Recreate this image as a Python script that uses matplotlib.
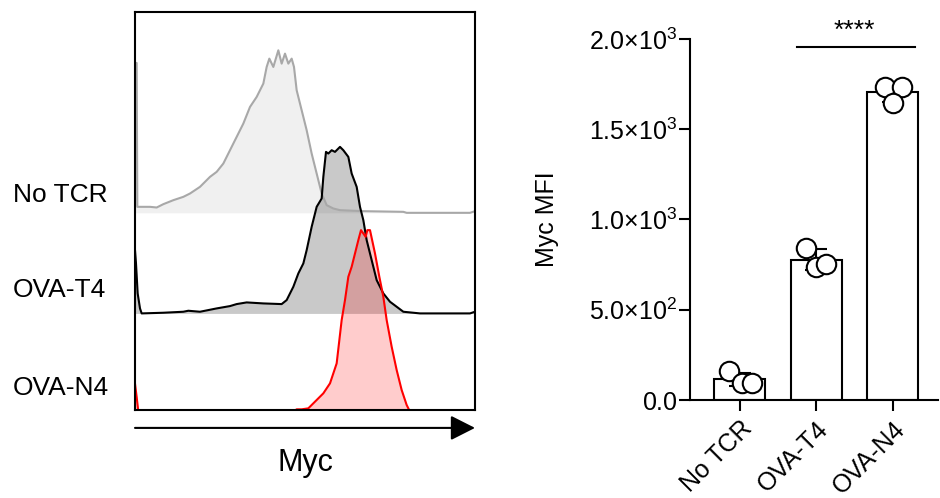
import numpy as np
import matplotlib
matplotlib.use("Agg")
import matplotlib.pyplot as plt

plt.rcParams["font.family"] = ["Liberation Sans", "DejaVu Sans"]
plt.rcParams["mathtext.fontset"] = "custom"
plt.rcParams["mathtext.rm"] = "Liberation Sans"
plt.rcParams["mathtext.it"] = "Liberation Sans"

# ---- histogram traces (x: channel 0-1020, h: counts above own baseline) ----
notcr_x = [0, 5, 7, 45, 65, 85, 115, 145, 165, 195, 225, 245, 265, 285, 305, 325,
           345, 365, 385, 395, 403, 415, 430, 440, 450, 460, 470, 477, 485, 500,
           515, 530, 545, 560, 575, 595, 615, 685, 805, 815, 1005, 1020]
notcr_h = [450, 450, 18, 18, 16, 26, 38, 48, 58, 78, 108, 123, 148, 188, 228, 268,
           318, 348, 388, 438, 463, 438, 488, 448, 478, 448, 463, 438, 368, 308,
           248, 178, 118, 58, 23, 13, 8, 5, 3, 0, 0, 5]

t4_x = [0, 3, 8, 15, 20, 85, 145, 160, 195, 245, 285, 305, 335, 385, 440, 455,
        475, 490, 505, 515, 530, 545, 560, 565, 573, 580, 590, 600, 615, 625, 640,
        650, 665, 675, 685, 695, 710, 725, 745, 765, 785, 805, 855, 1005, 1020]
t4_h = [190, 150, 60, 15, 0, 2, 5, 8, 5, 15, 22, 28, 33, 30, 28, 40,
        80, 120, 150, 190, 260, 320, 345, 410, 485, 480, 490, 485, 500, 490, 470,
        420, 380, 320, 280, 220, 160, 100, 60, 35, 20, 5, 0, 0, 5]

n4_x = [0, 5, 10, 475, 485, 500, 520, 545, 565, 585, 605, 620, 630, 640, 650, 660,
        670, 678, 685, 692, 697, 705, 720, 733, 745, 755, 770, 785, 800, 815, 825,
        1020]
n4_h = [84, 44, 0, 0, 7, 7, 10, 35, 55, 85, 145, 275, 335, 405, 435, 475,
        515, 545, 535, 525, 545, 545, 475, 405, 345, 275, 195, 125, 65, 20, 0,
        0]

hist_labels = ["No TCR", "OVA-T4", "OVA-N4"]

# ---- Myc MFI per replicate ----
groups = ["No TCR", "OVA-T4", "OVA-N4"]
mfi_notcr = [158, 94, 94]
mfi_t4 = [842, 737, 753]
mfi_n4 = [1734, 1734, 1645]

fig = plt.figure(figsize=(9.4, 4.98), dpi=100)

# ---------------- left: offset histograms ----------------
ax = fig.add_axes([135 / 940, 88 / 498, 340 / 940, 398 / 498])
traces = [
    (notcr_x, notcr_h, 592, "#a8a8a8", (0, 0, 0, 0.06)),
    (t4_x, t4_h, 290, "black", (0, 0, 0, 0.21)),
    (n4_x, n4_h, -5, "#ff0000", (1, 0, 0, 0.2)),
]
for xs, hs, base, lc, fc in traces:
    xs = np.asarray(xs, float)
    ys = np.asarray(hs, float) + base
    ax.fill_between(xs, base, ys, color=fc, lw=0)
    ax.plot(xs, ys, color=lc, lw=1.5)
ax.set_xlim(0, 1020)
ax.set_ylim(0, 1195)
ax.set_xticks([])
ax.set_yticks([])
for s in ax.spines.values():
    s.set_linewidth(1.5)
    s.set_zorder(5)

for lab, ypix in zip(hist_labels, [195, 290, 388]):
    fig.text(13 / 940, 1 - ypix / 498, lab, fontsize=19, ha="left", va="center")

ax.annotate("", xy=(1.0, -0.045), xytext=(0.0, -0.045), xycoords="axes fraction",
            arrowprops=dict(arrowstyle="-|>,head_length=0.75,head_width=0.38",
                            lw=1.5, color="black", mutation_scale=20,
                            shrinkA=0, shrinkB=0),
            annotation_clip=False)
ax.text(0.5, -0.133, "Myc", transform=ax.transAxes, fontsize=22,
        ha="center", va="center")

# ---------------- right: bar chart ----------------
bx = fig.add_axes([690 / 940, 98 / 498, 248 / 940, 361 / 498])
data = [mfi_notcr, mfi_t4, mfi_n4]
pos = np.arange(len(groups))
means = [np.mean(d) for d in data]
sds = [np.std(d, ddof=1) for d in data]
bx.bar(pos, means, width=0.67, color="white", edgecolor="black", lw=1.5, zorder=1)
bx.errorbar(pos, means, yerr=sds, fmt="none", ecolor="black", elinewidth=1.5,
            capsize=8, capthick=1.5, zorder=2)
jitter = [[-0.14, 0.03, 0.16], [-0.13, 0.0, 0.13], [-0.1, 0.12, 0.0]]
for i, d in enumerate(data):
    bx.plot(pos[i] + np.array(jitter[i]), d, "o", ms=14, mfc="white", mec="black",
            mew=1.5, zorder=3, clip_on=False)

bx.set_xlim(-0.65, 2.59)
bx.set_ylim(0, 2000)
bx.set_yticks([0, 500, 1000, 1500, 2000])
bx.set_yticklabels([r"$\mathregular{0.0}$",
                    r"$\mathregular{5.0{\times}10^{2}}$",
                    r"$\mathregular{1.0{\times}10^{3}}$",
                    r"$\mathregular{1.5{\times}10^{3}}$",
                    r"$\mathregular{2.0{\times}10^{3}}$"])
bx.set_xticks(pos)
bx.set_xticklabels(groups, rotation=45, ha="right", rotation_mode="anchor")
bx.tick_params(axis="both", labelsize=18, length=8, width=1.5, pad=1)
bx.tick_params(axis="x", pad=4)
for s in ["top", "right"]:
    bx.spines[s].set_visible(False)
for s in ["left", "bottom"]:
    bx.spines[s].set_linewidth(1.5)
bx.set_ylabel("Myc MFI", fontsize=18)
bx.yaxis.set_label_coords(-0.53, 0.5)

bx.plot([0.745, 2.29], [1956, 1956], color="black", lw=1.5, clip_on=False)
bx.text(1.5, 2044, "****", fontsize=19, ha="center", va="center", clip_on=False)

fig.savefig("out.png", dpi=100)
